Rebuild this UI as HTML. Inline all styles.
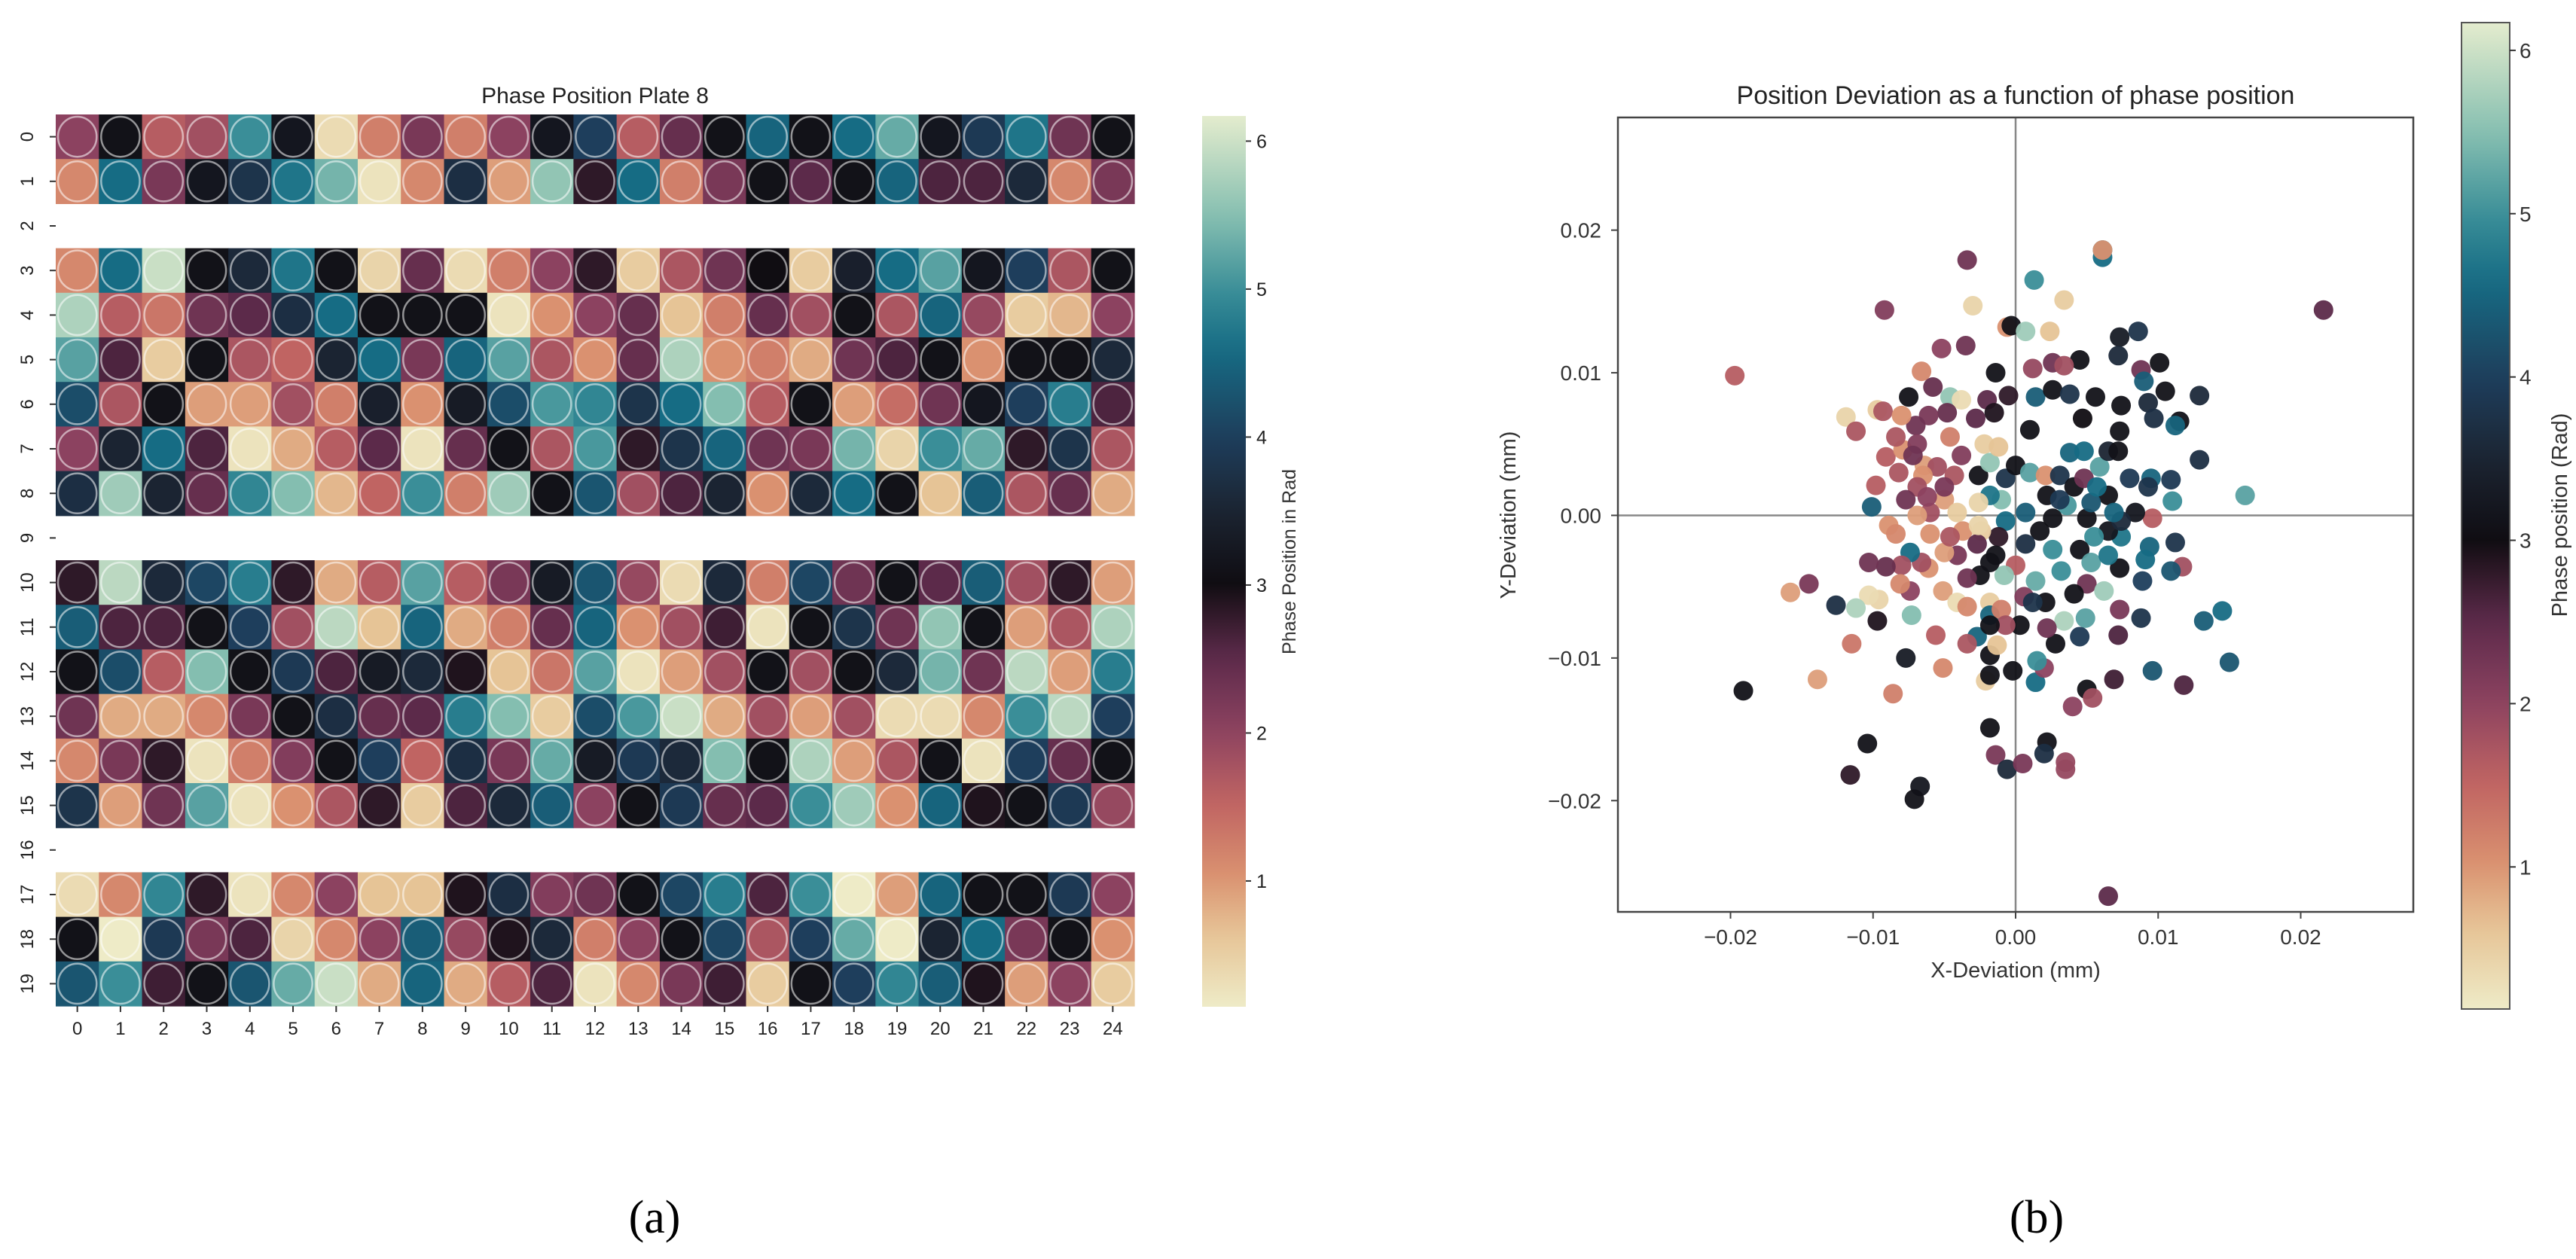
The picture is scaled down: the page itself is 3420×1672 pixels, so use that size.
<!DOCTYPE html>
<html><head><meta charset="utf-8">
<style>
html,body{margin:0;padding:0;background:#fff;}
svg{display:block;font-family:"Liberation Sans","DejaVu Sans",sans-serif;}
</style></head>
<body>
<svg id="fig" width="3420" height="1672" viewBox="0 0 3420 1672" xmlns="http://www.w3.org/2000/svg">
<defs>
<linearGradient id="cbgrad" x1="0" y1="1" x2="0" y2="0"></linearGradient>
</defs>
<g id="panelA"></g>
<g id="panelB"></g>
<text x="869" y="1637" font-family="Liberation Serif, serif" font-size="62" text-anchor="middle">(a)</text>
<text x="2704" y="1637" font-family="Liberation Serif, serif" font-size="62" text-anchor="middle">(b)</text>
</svg>
<script>
// ---------- heatmap data (phase in rad, null = empty row) ----------
const heatRows = [0,1,2,3,4,5,6,7,8,9,10,11,12,13,14,15,16,17,18,19];
const heatCols = [0,1,2,3,4,5,6,7,8,9,10,11,12,13,14,15,16,17,18,19,20,21,22,23,24];
const heatValues = [
[2.0,3.1,1.6,1.8,5.0,3.2,0.3,1.2,2.2,1.2,2.0,3.2,4.0,1.6,2.4,3.1,4.5,3.1,4.6,5.3,3.2,3.9,4.7,2.3,3.1],
[1.1,4.6,2.2,3.2,3.8,4.7,5.4,0.2,1.1,3.7,0.9,5.6,2.8,4.6,1.2,2.2,3.1,2.5,3.1,4.5,2.6,2.6,3.6,1.1,2.2],
null,
[1.1,4.6,6.0,3.1,3.6,4.7,3.1,0.4,2.4,0.3,1.2,2.0,2.8,0.5,1.7,2.3,3.0,0.5,3.4,4.6,5.2,3.2,4.0,1.7,3.1],
[5.8,1.6,1.3,2.3,2.5,3.7,4.6,3.1,3.1,3.1,0.2,1.0,2.0,2.4,0.6,1.2,2.4,1.8,3.1,1.7,4.5,1.9,0.5,0.7,2.0],
[5.2,2.6,0.5,3.1,1.7,1.5,3.5,4.6,2.2,4.5,5.2,1.7,1.0,2.4,5.8,1.0,1.2,0.8,2.3,2.6,3.1,1.0,3.1,3.1,3.6],
[4.2,1.7,3.1,0.9,0.9,1.8,1.2,3.4,1.0,3.3,4.2,5.1,4.9,3.8,4.6,5.5,1.6,3.1,0.9,1.4,2.3,3.2,4.0,4.8,2.6],
[2.0,3.5,4.6,2.6,0.2,0.8,1.6,2.5,0.2,2.4,3.1,1.7,5.1,2.8,3.8,4.5,2.3,2.2,5.4,0.4,5.0,5.3,2.8,3.8,1.7],
[3.7,5.7,3.5,2.4,4.9,5.5,0.7,1.5,5.0,1.2,5.7,3.1,4.3,1.8,2.6,3.5,1.0,3.6,4.6,3.1,0.6,4.4,1.7,2.4,0.8],
null,
[2.8,5.9,3.6,4.1,4.8,2.8,0.8,1.6,5.2,1.6,2.2,3.3,4.3,1.9,0.3,3.6,1.2,4.1,2.3,3.1,2.5,4.4,1.8,2.8,0.9],
[4.4,2.6,2.6,3.1,4.0,1.8,5.9,0.6,4.5,0.8,1.2,2.4,4.5,1.0,1.8,2.7,0.2,3.1,3.8,2.3,5.6,3.1,0.9,1.7,5.8],
[3.1,4.2,1.6,5.5,3.1,3.9,2.6,3.3,3.6,2.9,0.6,1.3,5.2,0.2,0.9,1.8,3.1,1.8,3.1,3.6,5.4,2.3,5.9,0.9,4.8],
[2.3,0.8,0.8,1.1,2.2,3.1,3.7,2.4,2.5,4.8,5.5,0.5,4.2,5.1,6.0,0.8,1.8,0.9,1.8,0.3,0.3,1.1,5.0,5.9,4.0],
[1.1,2.2,2.8,0.2,1.2,2.1,3.1,4.0,1.5,3.7,2.2,5.3,3.3,3.9,3.6,5.5,3.1,5.8,0.9,1.7,3.1,0.2,4.0,2.4,3.1],
[3.8,0.9,2.3,5.2,0.2,1.0,1.7,2.8,0.5,2.6,3.6,4.4,2.0,3.1,3.9,2.4,2.5,5.0,5.7,1.0,4.5,2.9,3.1,3.9,1.9],
null,
[0.3,1.1,4.9,2.8,0.2,1.1,2.0,0.6,0.6,2.9,3.7,2.1,2.3,3.1,4.1,4.8,2.6,5.0,0.1,0.9,4.5,3.1,3.1,3.9,2.0],
[3.1,0.1,3.9,2.2,2.6,0.4,1.1,2.0,4.4,1.9,2.9,3.6,1.2,2.0,3.1,4.1,1.7,4.0,5.3,0.1,3.5,4.6,2.2,3.1,1.0],
[4.3,5.0,2.7,3.1,4.3,5.3,6.0,0.8,4.5,0.8,1.6,2.6,0.2,1.1,2.2,2.7,0.5,3.1,4.0,4.9,4.4,2.9,0.9,2.0,0.5]
];
const heatCbTicks = [1,2,3,4,5,6];

// ---------- scatter data (mm, rad) ----------
const scatX = [-0.0197,0.0216,-0.0191,-0.0034,0.0061,0.0061,0.0013,-0.0030,0.0034,-0.0092,-0.0006,-0.0003,0.0007,0.0024,0.0086,0.0073,-0.0052,-0.0035,0.0072,0.0045,0.0101,-0.0014,-0.0066,0.0088,0.0012,0.0026,0.0034,-0.0075,-0.0119,-0.0112,-0.0097,-0.0093,-0.0058,-0.0046,-0.0038,-0.0020,-0.0005,0.0014,0.0026,0.0038,0.0056,0.0074,0.0090,0.0093,0.0105,0.0129,0.0115,0.0112,0.0097,0.0129,0.0161,0.0073,0.0047,0.0010,-0.0015,-0.0028,-0.0048,-0.0061,-0.0070,-0.0080,-0.0091,-0.0098,-0.0101,-0.0082,-0.0079,-0.0069,-0.0064,-0.0055,-0.0046,-0.0043,-0.0038,-0.0026,-0.0022,-0.0018,-0.0012,-0.0007,0.0000,-0.0010,-0.0018,-0.0026,0.0010,0.0021,0.0022,0.0031,0.0038,0.0048,0.0041,0.0048,0.0059,0.0065,0.0072,0.0080,0.0065,0.0095,0.0109,0.0110,0.0096,0.0112,0.0094,0.0091,0.0117,0.0109,0.0089,0.0073,0.0074,0.0065,0.0055,0.0050,0.0053,0.0036,0.0026,0.0017,0.0007,-0.0007,-0.0012,-0.0014,0.0026,0.0045,0.0053,0.0065,0.0050,0.0062,0.0073,0.0088,0.0072,0.0049,0.0045,0.0034,0.0028,0.0022,0.0021,0.0006,0.0003,0.0014,0.0000,-0.0008,-0.0018,-0.0025,-0.0034,-0.0041,-0.0050,-0.0061,-0.0066,-0.0074,-0.0080,-0.0091,-0.0074,-0.0081,-0.0096,-0.0103,-0.0112,-0.0073,-0.0051,-0.0041,-0.0034,-0.0018,-0.0018,-0.0010,-0.0007,-0.0027,-0.0018,-0.0018,-0.0013,-0.0034,-0.0056,-0.0051,-0.0077,-0.0097,-0.0126,-0.0145,-0.0158,-0.0115,-0.0139,-0.0086,-0.0021,-0.0018,-0.0002,0.0014,0.0020,0.0015,0.0050,0.0054,0.0040,0.0069,0.0096,0.0118,0.0132,0.0145,0.0150,-0.0018,0.0022,0.0020,-0.0014,-0.0006,0.0005,0.0035,0.0035,-0.0104,-0.0116,-0.0067,-0.0071,0.0065,-0.0084,-0.0072,-0.0065,-0.0050,-0.0060,-0.0089,-0.0084,-0.0069,-0.0041,-0.0050,-0.0069,-0.0077,-0.0037,-0.0024,-0.0027,-0.0046,-0.0060,0.0093,0.0084,0.0074,0.0069,0.0057,0.0031,0.0007,-0.0026,-0.0103,-0.0062,0.0032,0.0041,0.0012,0.0061];
const scatY = [0.0098,0.0144,-0.0123,0.0179,0.0186,0.0181,0.0165,0.0147,0.0151,0.0144,0.0132,0.0133,0.0129,0.0129,0.0129,0.0125,0.0117,0.0119,0.0112,0.0109,0.0107,0.0100,0.0101,0.0102,0.0103,0.0107,0.0105,0.0083,0.0069,0.0059,0.0074,0.0073,0.0090,0.0083,0.0081,0.0081,0.0084,0.0083,0.0088,0.0085,0.0083,0.0077,0.0094,0.0079,0.0087,0.0084,0.0066,0.0063,0.0068,0.0039,0.0014,0.0059,0.0068,0.0060,0.0072,0.0068,0.0072,0.0070,0.0063,0.0070,0.0041,0.0021,0.0006,0.0030,0.0046,0.0050,0.0035,0.0034,0.0055,0.0028,0.0042,0.0028,0.0050,0.0037,0.0048,0.0026,0.0035,0.0011,0.0014,0.0009,0.0030,0.0028,0.0014,0.0028,0.0044,0.0045,0.0020,0.0026,0.0034,0.0045,0.0045,0.0026,0.0014,0.0026,0.0025,0.0010,-0.0002,-0.0019,-0.0022,-0.0031,-0.0036,-0.0039,-0.0046,-0.0037,-0.0015,-0.0011,-0.0015,-0.0002,0.0009,0.0007,-0.0002,-0.0011,-0.0020,-0.0004,-0.0015,-0.0028,-0.0024,-0.0024,-0.0033,-0.0028,-0.0048,-0.0053,-0.0066,-0.0072,-0.0084,-0.0072,-0.0085,-0.0074,-0.0090,-0.0079,-0.0061,-0.0057,-0.0077,-0.0046,-0.0035,-0.0042,-0.0033,-0.0042,-0.0044,-0.0028,-0.0026,-0.0037,-0.0033,-0.0026,-0.0035,-0.0036,-0.0053,-0.0048,-0.0059,-0.0056,-0.0065,-0.0070,-0.0053,-0.0061,-0.0064,-0.0061,-0.0070,-0.0066,-0.0077,-0.0085,-0.0077,-0.0098,-0.0091,-0.0090,-0.0084,-0.0107,-0.0100,-0.0074,-0.0063,-0.0048,-0.0054,-0.0090,-0.0115,-0.0125,-0.0116,-0.0112,-0.0109,-0.0117,-0.0107,-0.0102,-0.0122,-0.0128,-0.0134,-0.0115,-0.0109,-0.0119,-0.0074,-0.0067,-0.0103,-0.0149,-0.0159,-0.0167,-0.0168,-0.0178,-0.0174,-0.0173,-0.0178,-0.0160,-0.0182,-0.0190,-0.0199,-0.0267,0.0055,0.0042,0.0028,0.0011,0.0002,-0.0007,-0.0013,0.0000,0.0002,0.0020,0.0020,0.0011,-0.0011,-0.0011,-0.0020,-0.0015,-0.0013,0.0020,0.0002,-0.0004,0.0002,0.0020,0.0011,0.0002,-0.0007,-0.0033,0.0013,-0.0039,-0.0055,-0.0061,0.0186];
const scatPhase = [1.6,2.5,3.1,2.3,4.6,4.6,5.0,0.4,0.5,2.1,1.0,3.1,5.7,0.6,3.8,3.3,2.0,2.3,3.6,3.1,3.1,3.1,1.1,2.3,1.9,2.3,1.8,3.1,0.4,1.7,0.5,1.7,2.4,5.6,0.3,2.5,2.8,4.4,3.1,3.8,3.1,3.1,4.4,3.6,3.1,3.6,3.1,4.5,3.7,3.7,5.2,3.1,3.0,3.1,2.9,2.5,2.4,2.2,2.3,1.0,1.6,1.6,4.4,1.7,1.0,2.1,0.9,1.8,1.2,1.7,2.1,3.1,0.5,5.6,0.6,3.8,3.1,5.5,4.7,0.4,5.2,1.0,3.1,3.8,4.5,4.6,3.1,2.3,5.2,3.5,3.1,3.9,3.1,4.5,3.9,5.0,1.6,3.8,4.5,4.6,1.8,4.3,4.0,3.1,4.7,3.2,5.0,3.1,4.3,5.1,3.1,3.1,3.7,4.6,2.8,3.1,5.0,3.1,5.2,4.7,2.3,5.7,2.2,3.8,2.6,5.2,3.9,5.8,3.1,2.3,3.1,2.1,3.1,5.3,1.6,5.6,3.1,3.1,2.3,2.2,0.9,1.0,1.8,4.6,1.8,2.4,2.0,1.1,0.4,0.3,5.8,5.5,0.9,0.3,1.1,0.5,4.5,1.2,1.8,4.5,3.1,3.1,0.6,1.7,1.6,1.1,3.3,2.9,3.7,2.2,0.9,1.3,0.9,1.2,0.5,3.1,3.1,4.6,2.0,5.0,3.1,1.8,2.0,2.7,4.3,2.6,4.4,4.6,4.3,3.1,3.1,3.7,2.2,3.6,2.2,1.9,1.9,3.1,2.8,3.2,3.1,2.5,1.7,2.3,1.0,0.9,1.8,1.0,1.1,0.9,0.5,2.2,1.8,2.3,1.0,0.5,2.5,1.7,1.0,3.8,3.2,3.6,4.5,4.6,3.9,4.4,0.4,2.3,2.0,5.0,3.1,3.8,1.0];
const scatXTicks = [-0.02,-0.01,0.00,0.01,0.02];
const scatYTicks = [-0.02,-0.01,0.00,0.01,0.02];
const scatCbTicks = [1,2,3,4,5,6];

// ---------- colormap ----------
const cmapStops = [
 [0.1,[238,235,199]],[0.6,[230,196,150]],[1.0,[218,145,112]],[1.5,[192,100,98]],[2.0,[140,66,96]],
 [2.5,[92,42,74]],[3.0,[16,13,18]],[3.5,[27,36,50]],[4.0,[30,62,92]],[4.6,[22,108,132]],
 [5.0,[58,142,152]],[5.5,[132,190,176]],[6.2,[228,236,206]]];
function cmap(v){
  if(v<=cmapStops[0][0]) return rgb(cmapStops[0][1]);
  for(let i=1;i<cmapStops.length;i++){
    if(v<=cmapStops[i][0]){
      const a=cmapStops[i-1],b=cmapStops[i],t=(v-a[0])/(b[0]-a[0]);
      return rgb(a[1].map((c,k)=>c+(b[1][k]-c)*t));
    }
  }
  return rgb(cmapStops[cmapStops.length-1][1]);
}
function rgb(c){return 'rgb('+c.map(x=>Math.round(x)).join(',')+')';}

const NS='http://www.w3.org/2000/svg';
function mk(tag,attrs,parent,txt){
  const e=document.createElementNS(NS,tag);
  for(const k in attrs) e.setAttribute(k,attrs[k]);
  if(txt!==undefined) e.textContent=txt;
  parent.appendChild(e); return e;
}
// gradient
const grad=document.getElementById('cbgrad');
for(let i=0;i<=40;i++){
  const v=0.1+6.1*i/40;
  mk('stop',{offset:(i/40*100)+'%','stop-color':cmap(v)},grad);
}

// ---------- Panel A: heatmap ----------
const A=document.getElementById('panelA');
const hx0=74,hx1=1506,hy0=152,hy1=1336;
const cw=(hx1-hx0)/heatCols.length, ch=(hy1-hy0)/heatRows.length;
function hxs(c){return hx0+c*cw;}
function hys(r){return hy0+r*ch;}
let t=mk('text',{x:(hx0+hx1)/2,y:137,'font-size':30,'text-anchor':'middle',fill:'#222'},A,'Phase Position Plate 8');


heatRows.forEach((r,ri)=>{
  const row=heatValues[ri];
  if(row){
    row.forEach((v,ci)=>{
      const col=cmap(v);
      const rc=mk('rect',{x:hxs(ci),y:hys(ri),width:cw+0.6,height:ch+0.6,fill:col},A);
      
      
      const el=mk('ellipse',{cx:hxs(ci)+cw/2,cy:hys(ri)+ch/2,rx:cw/2-3,ry:ch/2-3,fill:col,stroke:'rgba(255,255,255,0.55)','stroke-width':2.5},A);
      
      
    });
  }
  const yc=hys(ri)+ch/2;
  mk('line',{x1:hx0-8,x2:hx0,y1:yc,y2:yc,stroke:'#333','stroke-width':2},A);
  const lb=mk('text',{x:0,y:0,'font-size':24,'text-anchor':'middle',fill:'#222',transform:'translate(44,'+yc+') rotate(-90)'},A,String(r));
  
  
});
heatCols.forEach((c,ci)=>{
  const xc=hxs(ci)+cw/2;
  mk('line',{x1:xc,x2:xc,y1:hy1,y2:hy1+8,stroke:'#333','stroke-width':2},A);
  const lb=mk('text',{x:xc,y:1374,'font-size':24,'text-anchor':'middle',fill:'#222'},A,String(c));
  
  
});
// colorbar A
const cbAx=1596,cbAw=58,cbAtop=154,cbAbot=1337,cbAvmin=0.15,cbAvmax=6.17;
function cbAy(v){return cbAbot-(v-cbAvmin)/(cbAvmax-cbAvmin)*(cbAbot-cbAtop);}
let cb=mk('rect',{x:cbAx,y:cbAtop,width:cbAw,height:cbAbot-cbAtop,fill:'url(#cbgrad)'},A);


heatCbTicks.forEach(v=>{
  const y=cbAy(v);
  mk('line',{x1:cbAx+cbAw,x2:cbAx+cbAw+7,y1:y,y2:y,stroke:'#333','stroke-width':2},A);
  const lb=mk('text',{x:cbAx+cbAw+14,y:y+9,'font-size':25,fill:'#222'},A,String(v));
  
  
});
t=mk('text',{x:0,y:0,'font-size':25,'text-anchor':'middle',fill:'#333',transform:'translate(1720,746) rotate(-90)'},A,'Phase Position in Rad');



// ---------- Panel B: scatter ----------
const B=document.getElementById('panelB');
const sx0=2148,sx1=3204,sy0=156,sy1=1211,xmin=-0.0279,xmax=0.0279,ymin=-0.0278,ymax=0.0279;
function sxs(x){return sx0+(x-xmin)/(xmax-xmin)*(sx1-sx0);}
function sys(y){return sy1-(y-ymin)/(ymax-ymin)*(sy1-sy0);}
t=mk('text',{x:(sx0+sx1)/2,y:138,'font-size':34,'text-anchor':'middle',fill:'#222'},B,'Position Deviation as a function of phase position');


let zl=mk('line',{x1:sxs(0),x2:sxs(0),y1:sy0,y2:sy1,stroke:'#888','stroke-width':2.5},B);


zl=mk('line',{x1:sx0,x2:sx1,y1:sys(0),y2:sys(0),stroke:'#888','stroke-width':2.5},B);


for(let i=0;i<scatX.length;i++){
  const c=mk('circle',{cx:sxs(scatX[i]),cy:sys(scatY[i]),r:13,fill:cmap(scatPhase[i]),'fill-opacity':0.95},B);
  
  
}
let fr=mk('rect',{x:sx0,y:sy0,width:sx1-sx0,height:sy1-sy0,fill:'none',stroke:'#444','stroke-width':2.5},B);


function fmt(v){const s=Math.abs(v).toFixed(2);return (v<-1e-9?'\u22120':'0')+s.slice(1);}
scatXTicks.forEach(v=>{
  const x=sxs(v);
  mk('line',{x1:x,x2:x,y1:sy1,y2:sy1+9,stroke:'#444','stroke-width':2},B);
  const lb=mk('text',{x:x,y:1254,'font-size':28,'text-anchor':'middle',fill:'#333'},B,fmt(v));
  
  
});
scatYTicks.forEach(v=>{
  const y=sys(v);
  mk('line',{x1:sx0-9,x2:sx0,y1:y,y2:y,stroke:'#444','stroke-width':2},B);
  const lb=mk('text',{x:2126,y:y+10,'font-size':28,'text-anchor':'end',fill:'#333'},B,fmt(v));
  
  
});
t=mk('text',{x:(sx0+sx1)/2,y:1298,'font-size':29,'text-anchor':'middle',fill:'#333'},B,'X-Deviation (mm)');


t=mk('text',{x:0,y:0,'font-size':29,'text-anchor':'middle',fill:'#333',transform:'translate(2012,684) rotate(-90)'},B,'Y-Deviation (mm)');


// colorbar B
const cbBx=3268,cbBw=64,cbBtop=30,cbBbot=1340,cbBvmin=0.13,cbBvmax=6.17;
function cbBy(v){return cbBbot-(v-cbBvmin)/(cbBvmax-cbBvmin)*(cbBbot-cbBtop);}
cb=mk('rect',{x:cbBx,y:cbBtop,width:cbBw,height:cbBbot-cbBtop,fill:'url(#cbgrad)',stroke:'#555','stroke-width':2},B);


scatCbTicks.forEach(v=>{
  const y=cbBy(v);
  mk('line',{x1:cbBx+cbBw,x2:cbBx+cbBw+8,y1:y,y2:y,stroke:'#333','stroke-width':2},B);
  const lb=mk('text',{x:cbBx+cbBw+13,y:y+10,'font-size':28,fill:'#333'},B,String(v));
  
  
});
t=mk('text',{x:0,y:0,'font-size':29,'text-anchor':'middle',fill:'#333',transform:'translate(3408,684) rotate(-90)'},B,'Phase position (Rad)');


</script>
</body></html>
